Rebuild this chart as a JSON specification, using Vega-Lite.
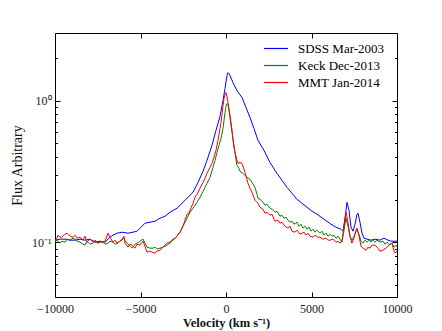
{
"$schema": "https://vega.github.io/schema/vega-lite/v6.json",
"width": 342, "height": 264,
"autosize": {"type": "none"},
"padding": {"left": 55, "top": 33, "right": 45, "bottom": 34},
"background": "white",
"config": {"view": {"stroke": null}, "font": "Liberation Serif",
  "axis": {"grid": false, "domainColor": "black", "domainWidth": 1, "tickColor": "black", "tickWidth": 1, "labelColor": "#222", "labelFont": "Liberation Serif", "labelFontSize": 12, "titleFont": "Liberation Serif", "titleFontSize": 12.5, "titleFontWeight": "bold", "titleColor": "#111"}},
"datasets": {"d": [
{"s":"SDSS Mar-2003","v":-10000,"f":0.1033},{"s":"SDSS Mar-2003","v":-9708,"f":0.105},{"s":"SDSS Mar-2003","v":-9415,"f":0.105},{"s":"SDSS Mar-2003","v":-9123,"f":0.1033},{"s":"SDSS Mar-2003","v":-8830,"f":0.1033},{"s":"SDSS Mar-2003","v":-8538,"f":0.105},{"s":"SDSS Mar-2003","v":-8246,"f":0.1033},{"s":"SDSS Mar-2003","v":-7953,"f":0.105},{"s":"SDSS Mar-2003","v":-7661,"f":0.1},{"s":"SDSS Mar-2003","v":-7368,"f":0.1016},{"s":"SDSS Mar-2003","v":-7076,"f":0.1},{"s":"SDSS Mar-2003","v":-6784,"f":0.1084},{"s":"SDSS Mar-2003","v":-6608,"f":0.112},{"s":"SDSS Mar-2003","v":-6374,"f":0.1157},{"s":"SDSS Mar-2003","v":-6082,"f":0.1176},{"s":"SDSS Mar-2003","v":-5731,"f":0.1157},{"s":"SDSS Mar-2003","v":-5439,"f":0.1176},{"s":"SDSS Mar-2003","v":-5205,"f":0.1195},{"s":"SDSS Mar-2003","v":-5029,"f":0.1255},{"s":"SDSS Mar-2003","v":-4737,"f":0.1361},{"s":"SDSS Mar-2003","v":-4444,"f":0.1383},{"s":"SDSS Mar-2003","v":-4152,"f":0.1406},{"s":"SDSS Mar-2003","v":-3860,"f":0.1476},{"s":"SDSS Mar-2003","v":-3567,"f":0.1524},{"s":"SDSS Mar-2003","v":-3275,"f":0.1627},{"s":"SDSS Mar-2003","v":-2865,"f":0.1736},{"s":"SDSS Mar-2003","v":-2514,"f":0.1913},{"s":"SDSS Mar-2003","v":-2223,"f":0.2074},{"s":"SDSS Mar-2003","v":-1930,"f":0.2249},{"s":"SDSS Mar-2003","v":-1637,"f":0.2644},{"s":"SDSS Mar-2003","v":-1345,"f":0.3162},{"s":"SDSS Mar-2003","v":-1111,"f":0.378},{"s":"SDSS Mar-2003","v":-819,"f":0.4827},{"s":"SDSS Mar-2003","v":-585,"f":0.6163},{"s":"SDSS Mar-2003","v":-351,"f":0.7722},{"s":"SDSS Mar-2003","v":-175,"f":1.0},{"s":"SDSS Mar-2003","v":-58,"f":1.215},{"s":"SDSS Mar-2003","v":59,"f":1.5},{"s":"SDSS Mar-2003","v":117,"f":1.575},{"s":"SDSS Mar-2003","v":175,"f":1.549},{"s":"SDSS Mar-2003","v":234,"f":1.5},{"s":"SDSS Mar-2003","v":409,"f":1.339},{"s":"SDSS Mar-2003","v":643,"f":1.176},{"s":"SDSS Mar-2003","v":936,"f":1.05},{"s":"SDSS Mar-2003","v":1170,"f":0.893},{"s":"SDSS Mar-2003","v":1404,"f":0.759},{"s":"SDSS Mar-2003","v":1637,"f":0.635},{"s":"SDSS Mar-2003","v":1871,"f":0.5237},{"s":"SDSS Mar-2003","v":2222,"f":0.445},{"s":"SDSS Mar-2003","v":2573,"f":0.3659},{"s":"SDSS Mar-2003","v":2982,"f":0.3062},{"s":"SDSS Mar-2003","v":3275,"f":0.2731},{"s":"SDSS Mar-2003","v":3567,"f":0.2439},{"s":"SDSS Mar-2003","v":3860,"f":0.2213},{"s":"SDSS Mar-2003","v":4152,"f":0.2008},{"s":"SDSS Mar-2003","v":4444,"f":0.1882},{"s":"SDSS Mar-2003","v":4737,"f":0.1764},{"s":"SDSS Mar-2003","v":5029,"f":0.1653},{"s":"SDSS Mar-2003","v":5322,"f":0.1575},{"s":"SDSS Mar-2003","v":5731,"f":0.1452},{"s":"SDSS Mar-2003","v":6140,"f":0.1339},{"s":"SDSS Mar-2003","v":6433,"f":0.1275},{"s":"SDSS Mar-2003","v":6725,"f":0.1235},{"s":"SDSS Mar-2003","v":6842,"f":0.1195},{"s":"SDSS Mar-2003","v":6959,"f":0.1476},{"s":"SDSS Mar-2003","v":7076,"f":0.1913},{"s":"SDSS Mar-2003","v":7193,"f":0.168},{"s":"SDSS Mar-2003","v":7310,"f":0.1275},{"s":"SDSS Mar-2003","v":7427,"f":0.1195},{"s":"SDSS Mar-2003","v":7544,"f":0.1339},{"s":"SDSS Mar-2003","v":7661,"f":0.1575},{"s":"SDSS Mar-2003","v":7719,"f":0.16},{"s":"SDSS Mar-2003","v":7836,"f":0.1383},{"s":"SDSS Mar-2003","v":7953,"f":0.1157},{"s":"SDSS Mar-2003","v":8070,"f":0.1067},{"s":"SDSS Mar-2003","v":8246,"f":0.105},{"s":"SDSS Mar-2003","v":8480,"f":0.1033},{"s":"SDSS Mar-2003","v":8713,"f":0.105},{"s":"SDSS Mar-2003","v":9006,"f":0.1033},{"s":"SDSS Mar-2003","v":9240,"f":0.1067},{"s":"SDSS Mar-2003","v":9474,"f":0.1033},{"s":"SDSS Mar-2003","v":9649,"f":0.1016},{"s":"SDSS Mar-2003","v":9825,"f":0.1016},{"s":"SDSS Mar-2003","v":10000,"f":0.1016},
{"s":"Keck Dec-2013","v":-10000,"f":0.1},{"s":"Keck Dec-2013","v":-9883,"f":0.1033},{"s":"Keck Dec-2013","v":-9708,"f":0.0984},{"s":"Keck Dec-2013","v":-9591,"f":0.1016},{"s":"Keck Dec-2013","v":-9415,"f":0.1},{"s":"Keck Dec-2013","v":-9298,"f":0.105},{"s":"Keck Dec-2013","v":-9123,"f":0.1033},{"s":"Keck Dec-2013","v":-8947,"f":0.1067},{"s":"Keck Dec-2013","v":-8830,"f":0.105},{"s":"Keck Dec-2013","v":-8713,"f":0.1016},{"s":"Keck Dec-2013","v":-8538,"f":0.1},{"s":"Keck Dec-2013","v":-8363,"f":0.0968},{"s":"Keck Dec-2013","v":-8246,"f":0.0953},{"s":"Keck Dec-2013","v":-8129,"f":0.1016},{"s":"Keck Dec-2013","v":-8070,"f":0.1},{"s":"Keck Dec-2013","v":-7953,"f":0.0968},{"s":"Keck Dec-2013","v":-7778,"f":0.0984},{"s":"Keck Dec-2013","v":-7661,"f":0.1016},{"s":"Keck Dec-2013","v":-7485,"f":0.0984},{"s":"Keck Dec-2013","v":-7368,"f":0.1},{"s":"Keck Dec-2013","v":-7193,"f":0.1},{"s":"Keck Dec-2013","v":-7076,"f":0.0968},{"s":"Keck Dec-2013","v":-6901,"f":0.0984},{"s":"Keck Dec-2013","v":-6784,"f":0.1016},{"s":"Keck Dec-2013","v":-6608,"f":0.1},{"s":"Keck Dec-2013","v":-6491,"f":0.0968},{"s":"Keck Dec-2013","v":-6316,"f":0.0984},{"s":"Keck Dec-2013","v":-6199,"f":0.1016},{"s":"Keck Dec-2013","v":-6023,"f":0.1067},{"s":"Keck Dec-2013","v":-5906,"f":0.1033},{"s":"Keck Dec-2013","v":-5789,"f":0.0984},{"s":"Keck Dec-2013","v":-5614,"f":0.0937},{"s":"Keck Dec-2013","v":-5497,"f":0.0907},{"s":"Keck Dec-2013","v":-5322,"f":0.0968},{"s":"Keck Dec-2013","v":-5205,"f":0.0984},{"s":"Keck Dec-2013","v":-5029,"f":0.1016},{"s":"Keck Dec-2013","v":-4854,"f":0.105},{"s":"Keck Dec-2013","v":-4737,"f":0.0984},{"s":"Keck Dec-2013","v":-4620,"f":0.0922},{"s":"Keck Dec-2013","v":-4444,"f":0.0907},{"s":"Keck Dec-2013","v":-4269,"f":0.0907},{"s":"Keck Dec-2013","v":-4152,"f":0.0922},{"s":"Keck Dec-2013","v":-4035,"f":0.0893},{"s":"Keck Dec-2013","v":-3860,"f":0.0907},{"s":"Keck Dec-2013","v":-3684,"f":0.0922},{"s":"Keck Dec-2013","v":-3567,"f":0.0937},{"s":"Keck Dec-2013","v":-3450,"f":0.0953},{"s":"Keck Dec-2013","v":-3275,"f":0.0984},{"s":"Keck Dec-2013","v":-3099,"f":0.1033},{"s":"Keck Dec-2013","v":-2982,"f":0.1067},{"s":"Keck Dec-2013","v":-2865,"f":0.1102},{"s":"Keck Dec-2013","v":-2690,"f":0.1176},{"s":"Keck Dec-2013","v":-2514,"f":0.1296},{"s":"Keck Dec-2013","v":-2398,"f":0.1383},{"s":"Keck Dec-2013","v":-2281,"f":0.1476},{"s":"Keck Dec-2013","v":-2105,"f":0.1627},{"s":"Keck Dec-2013","v":-1930,"f":0.1736},{"s":"Keck Dec-2013","v":-1813,"f":0.1822},{"s":"Keck Dec-2013","v":-1696,"f":0.1913},{"s":"Keck Dec-2013","v":-1520,"f":0.2074},{"s":"Keck Dec-2013","v":-1345,"f":0.2286},{"s":"Keck Dec-2013","v":-1228,"f":0.2439},{"s":"Keck Dec-2013","v":-1111,"f":0.2602},{"s":"Keck Dec-2013","v":-936,"f":0.2869},{"s":"Keck Dec-2013","v":-760,"f":0.3374},{"s":"Keck Dec-2013","v":-643,"f":0.378},{"s":"Keck Dec-2013","v":-526,"f":0.4305},{"s":"Keck Dec-2013","v":-409,"f":0.4827},{"s":"Keck Dec-2013","v":-292,"f":0.54},{"s":"Keck Dec-2013","v":-175,"f":0.635},{"s":"Keck Dec-2013","v":-117,"f":0.724},{"s":"Keck Dec-2013","v":-58,"f":0.823},{"s":"Keck Dec-2013","v":0,"f":0.907},{"s":"Keck Dec-2013","v":59,"f":0.9526},{"s":"Keck Dec-2013","v":117,"f":0.937},{"s":"Keck Dec-2013","v":175,"f":0.85},{"s":"Keck Dec-2013","v":234,"f":0.759},{"s":"Keck Dec-2013","v":292,"f":0.667},{"s":"Keck Dec-2013","v":409,"f":0.54},{"s":"Keck Dec-2013","v":526,"f":0.4237},{"s":"Keck Dec-2013","v":643,"f":0.3486},{"s":"Keck Dec-2013","v":760,"f":0.332},{"s":"Keck Dec-2013","v":819,"f":0.3162},{"s":"Keck Dec-2013","v":994,"f":0.3062},{"s":"Keck Dec-2013","v":1228,"f":0.2869},{"s":"Keck Dec-2013","v":1404,"f":0.278},{"s":"Keck Dec-2013","v":1520,"f":0.2644},{"s":"Keck Dec-2013","v":1696,"f":0.2439},{"s":"Keck Dec-2013","v":1813,"f":0.2178},{"s":"Keck Dec-2013","v":1871,"f":0.2041},{"s":"Keck Dec-2013","v":1988,"f":0.2008},{"s":"Keck Dec-2013","v":2164,"f":0.1913},{"s":"Keck Dec-2013","v":2281,"f":0.1822},{"s":"Keck Dec-2013","v":2398,"f":0.1852},{"s":"Keck Dec-2013","v":2573,"f":0.1736},{"s":"Keck Dec-2013","v":2690,"f":0.1708},{"s":"Keck Dec-2013","v":2865,"f":0.1627},{"s":"Keck Dec-2013","v":2982,"f":0.1653},{"s":"Keck Dec-2013","v":3158,"f":0.1524},{"s":"Keck Dec-2013","v":3275,"f":0.1549},{"s":"Keck Dec-2013","v":3392,"f":0.1476},{"s":"Keck Dec-2013","v":3509,"f":0.15},{"s":"Keck Dec-2013","v":3626,"f":0.1428},{"s":"Keck Dec-2013","v":3743,"f":0.1383},{"s":"Keck Dec-2013","v":3860,"f":0.1406},{"s":"Keck Dec-2013","v":3977,"f":0.1339},{"s":"Keck Dec-2013","v":4152,"f":0.1383},{"s":"Keck Dec-2013","v":4269,"f":0.1296},{"s":"Keck Dec-2013","v":4386,"f":0.1339},{"s":"Keck Dec-2013","v":4503,"f":0.1255},{"s":"Keck Dec-2013","v":4620,"f":0.1296},{"s":"Keck Dec-2013","v":4737,"f":0.1235},{"s":"Keck Dec-2013","v":4854,"f":0.1275},{"s":"Keck Dec-2013","v":4971,"f":0.1195},{"s":"Keck Dec-2013","v":5088,"f":0.1235},{"s":"Keck Dec-2013","v":5205,"f":0.1176},{"s":"Keck Dec-2013","v":5322,"f":0.1215},{"s":"Keck Dec-2013","v":5497,"f":0.1157},{"s":"Keck Dec-2013","v":5614,"f":0.1195},{"s":"Keck Dec-2013","v":5731,"f":0.112},{"s":"Keck Dec-2013","v":5848,"f":0.1157},{"s":"Keck Dec-2013","v":5965,"f":0.1102},{"s":"Keck Dec-2013","v":6082,"f":0.1139},{"s":"Keck Dec-2013","v":6199,"f":0.1102},{"s":"Keck Dec-2013","v":6316,"f":0.112},{"s":"Keck Dec-2013","v":6433,"f":0.1067},{"s":"Keck Dec-2013","v":6550,"f":0.1102},{"s":"Keck Dec-2013","v":6667,"f":0.105},{"s":"Keck Dec-2013","v":6784,"f":0.1},{"s":"Keck Dec-2013","v":6901,"f":0.1215},{"s":"Keck Dec-2013","v":7018,"f":0.1476},{"s":"Keck Dec-2013","v":7135,"f":0.1296},{"s":"Keck Dec-2013","v":7251,"f":0.1102},{"s":"Keck Dec-2013","v":7368,"f":0.1033},{"s":"Keck Dec-2013","v":7485,"f":0.1102},{"s":"Keck Dec-2013","v":7602,"f":0.1195},{"s":"Keck Dec-2013","v":7661,"f":0.1235},{"s":"Keck Dec-2013","v":7778,"f":0.1139},{"s":"Keck Dec-2013","v":7895,"f":0.1016},{"s":"Keck Dec-2013","v":8012,"f":0.0984},{"s":"Keck Dec-2013","v":8129,"f":0.1033},{"s":"Keck Dec-2013","v":8246,"f":0.1},{"s":"Keck Dec-2013","v":8363,"f":0.1033},{"s":"Keck Dec-2013","v":8480,"f":0.1},{"s":"Keck Dec-2013","v":8597,"f":0.1033},{"s":"Keck Dec-2013","v":8713,"f":0.1},{"s":"Keck Dec-2013","v":8830,"f":0.1033},{"s":"Keck Dec-2013","v":9006,"f":0.1},{"s":"Keck Dec-2013","v":9181,"f":0.1016},{"s":"Keck Dec-2013","v":9298,"f":0.0968},{"s":"Keck Dec-2013","v":9415,"f":0.1},{"s":"Keck Dec-2013","v":9591,"f":0.0953},{"s":"Keck Dec-2013","v":9708,"f":0.0984},{"s":"Keck Dec-2013","v":9825,"f":0.0922},{"s":"Keck Dec-2013","v":9942,"f":0.0953},{"s":"Keck Dec-2013","v":10000,"f":0.0922},
{"s":"MMT Jan-2014","v":-10000,"f":0.1016},{"s":"MMT Jan-2014","v":-9883,"f":0.1067},{"s":"MMT Jan-2014","v":-9825,"f":0.112},{"s":"MMT Jan-2014","v":-9708,"f":0.1084},{"s":"MMT Jan-2014","v":-9591,"f":0.1084},{"s":"MMT Jan-2014","v":-9415,"f":0.1139},{"s":"MMT Jan-2014","v":-9298,"f":0.1157},{"s":"MMT Jan-2014","v":-9123,"f":0.1102},{"s":"MMT Jan-2014","v":-8947,"f":0.1084},{"s":"MMT Jan-2014","v":-8830,"f":0.112},{"s":"MMT Jan-2014","v":-8713,"f":0.1067},{"s":"MMT Jan-2014","v":-8538,"f":0.1084},{"s":"MMT Jan-2014","v":-8363,"f":0.1033},{"s":"MMT Jan-2014","v":-8246,"f":0.1102},{"s":"MMT Jan-2014","v":-8129,"f":0.1},{"s":"MMT Jan-2014","v":-7953,"f":0.105},{"s":"MMT Jan-2014","v":-7778,"f":0.1},{"s":"MMT Jan-2014","v":-7661,"f":0.1033},{"s":"MMT Jan-2014","v":-7485,"f":0.0984},{"s":"MMT Jan-2014","v":-7368,"f":0.1016},{"s":"MMT Jan-2014","v":-7193,"f":0.1},{"s":"MMT Jan-2014","v":-7076,"f":0.1016},{"s":"MMT Jan-2014","v":-6901,"f":0.1157},{"s":"MMT Jan-2014","v":-6784,"f":0.1084},{"s":"MMT Jan-2014","v":-6608,"f":0.1},{"s":"MMT Jan-2014","v":-6491,"f":0.1033},{"s":"MMT Jan-2014","v":-6374,"f":0.0984},{"s":"MMT Jan-2014","v":-6199,"f":0.1016},{"s":"MMT Jan-2014","v":-6082,"f":0.1033},{"s":"MMT Jan-2014","v":-5965,"f":0.1102},{"s":"MMT Jan-2014","v":-5906,"f":0.0984},{"s":"MMT Jan-2014","v":-5731,"f":0.0922},{"s":"MMT Jan-2014","v":-5614,"f":0.0968},{"s":"MMT Jan-2014","v":-5497,"f":0.0953},{"s":"MMT Jan-2014","v":-5322,"f":0.0907},{"s":"MMT Jan-2014","v":-5205,"f":0.0968},{"s":"MMT Jan-2014","v":-5029,"f":0.0953},{"s":"MMT Jan-2014","v":-4912,"f":0.1},{"s":"MMT Jan-2014","v":-4854,"f":0.1016},{"s":"MMT Jan-2014","v":-4737,"f":0.0937},{"s":"MMT Jan-2014","v":-4620,"f":0.085},{"s":"MMT Jan-2014","v":-4444,"f":0.0864},{"s":"MMT Jan-2014","v":-4327,"f":0.085},{"s":"MMT Jan-2014","v":-4152,"f":0.0837},{"s":"MMT Jan-2014","v":-4035,"f":0.0864},{"s":"MMT Jan-2014","v":-3860,"f":0.0878},{"s":"MMT Jan-2014","v":-3684,"f":0.0922},{"s":"MMT Jan-2014","v":-3567,"f":0.0953},{"s":"MMT Jan-2014","v":-3450,"f":0.0984},{"s":"MMT Jan-2014","v":-3275,"f":0.1},{"s":"MMT Jan-2014","v":-3099,"f":0.105},{"s":"MMT Jan-2014","v":-2982,"f":0.1067},{"s":"MMT Jan-2014","v":-2865,"f":0.1102},{"s":"MMT Jan-2014","v":-2690,"f":0.1176},{"s":"MMT Jan-2014","v":-2514,"f":0.1296},{"s":"MMT Jan-2014","v":-2398,"f":0.1428},{"s":"MMT Jan-2014","v":-2281,"f":0.1575},{"s":"MMT Jan-2014","v":-2164,"f":0.16},{"s":"MMT Jan-2014","v":-2105,"f":0.168},{"s":"MMT Jan-2014","v":-1930,"f":0.1882},{"s":"MMT Jan-2014","v":-1813,"f":0.2074},{"s":"MMT Jan-2014","v":-1696,"f":0.2178},{"s":"MMT Jan-2014","v":-1520,"f":0.24},{"s":"MMT Jan-2014","v":-1345,"f":0.2644},{"s":"MMT Jan-2014","v":-1228,"f":0.2825},{"s":"MMT Jan-2014","v":-1111,"f":0.3062},{"s":"MMT Jan-2014","v":-936,"f":0.3374},{"s":"MMT Jan-2014","v":-819,"f":0.3601},{"s":"MMT Jan-2014","v":-702,"f":0.397},{"s":"MMT Jan-2014","v":-585,"f":0.445},{"s":"MMT Jan-2014","v":-468,"f":0.5237},{"s":"MMT Jan-2014","v":-351,"f":0.635},{"s":"MMT Jan-2014","v":-292,"f":0.7008},{"s":"MMT Jan-2014","v":-234,"f":0.797},{"s":"MMT Jan-2014","v":-175,"f":0.922},{"s":"MMT Jan-2014","v":-117,"f":1.033},{"s":"MMT Jan-2014","v":-58,"f":1.1},{"s":"MMT Jan-2014","v":0,"f":1.138},{"s":"MMT Jan-2014","v":59,"f":1.067},{"s":"MMT Jan-2014","v":117,"f":0.968},{"s":"MMT Jan-2014","v":175,"f":0.878},{"s":"MMT Jan-2014","v":234,"f":0.784},{"s":"MMT Jan-2014","v":292,"f":0.7008},{"s":"MMT Jan-2014","v":351,"f":0.6163},{"s":"MMT Jan-2014","v":409,"f":0.5237},{"s":"MMT Jan-2014","v":526,"f":0.4305},{"s":"MMT Jan-2014","v":643,"f":0.378},{"s":"MMT Jan-2014","v":702,"f":0.3601},{"s":"MMT Jan-2014","v":819,"f":0.3659},{"s":"MMT Jan-2014","v":936,"f":0.3601},{"s":"MMT Jan-2014","v":1111,"f":0.3111},{"s":"MMT Jan-2014","v":1287,"f":0.2602},{"s":"MMT Jan-2014","v":1404,"f":0.24},{"s":"MMT Jan-2014","v":1520,"f":0.2249},{"s":"MMT Jan-2014","v":1696,"f":0.1976},{"s":"MMT Jan-2014","v":1871,"f":0.1882},{"s":"MMT Jan-2014","v":1988,"f":0.1764},{"s":"MMT Jan-2014","v":2164,"f":0.1708},{"s":"MMT Jan-2014","v":2281,"f":0.16},{"s":"MMT Jan-2014","v":2398,"f":0.1627},{"s":"MMT Jan-2014","v":2573,"f":0.1549},{"s":"MMT Jan-2014","v":2690,"f":0.1575},{"s":"MMT Jan-2014","v":2807,"f":0.1452},{"s":"MMT Jan-2014","v":2865,"f":0.1406},{"s":"MMT Jan-2014","v":3041,"f":0.1428},{"s":"MMT Jan-2014","v":3158,"f":0.1361},{"s":"MMT Jan-2014","v":3275,"f":0.1383},{"s":"MMT Jan-2014","v":3450,"f":0.1296},{"s":"MMT Jan-2014","v":3626,"f":0.1255},{"s":"MMT Jan-2014","v":3743,"f":0.1296},{"s":"MMT Jan-2014","v":3860,"f":0.1195},{"s":"MMT Jan-2014","v":4035,"f":0.1176},{"s":"MMT Jan-2014","v":4152,"f":0.1215},{"s":"MMT Jan-2014","v":4328,"f":0.1139},{"s":"MMT Jan-2014","v":4444,"f":0.1157},{"s":"MMT Jan-2014","v":4562,"f":0.1176},{"s":"MMT Jan-2014","v":4678,"f":0.112},{"s":"MMT Jan-2014","v":4795,"f":0.1157},{"s":"MMT Jan-2014","v":4912,"f":0.1102},{"s":"MMT Jan-2014","v":5088,"f":0.1084},{"s":"MMT Jan-2014","v":5205,"f":0.112},{"s":"MMT Jan-2014","v":5380,"f":0.1084},{"s":"MMT Jan-2014","v":5497,"f":0.1084},{"s":"MMT Jan-2014","v":5672,"f":0.105},{"s":"MMT Jan-2014","v":5848,"f":0.1067},{"s":"MMT Jan-2014","v":5965,"f":0.1033},{"s":"MMT Jan-2014","v":6082,"f":0.1033},{"s":"MMT Jan-2014","v":6257,"f":0.105},{"s":"MMT Jan-2014","v":6433,"f":0.1},{"s":"MMT Jan-2014","v":6550,"f":0.1016},{"s":"MMT Jan-2014","v":6667,"f":0.0984},{"s":"MMT Jan-2014","v":6784,"f":0.1033},{"s":"MMT Jan-2014","v":6901,"f":0.1296},{"s":"MMT Jan-2014","v":7018,"f":0.1627},{"s":"MMT Jan-2014","v":7135,"f":0.1383},{"s":"MMT Jan-2014","v":7251,"f":0.1102},{"s":"MMT Jan-2014","v":7368,"f":0.0984},{"s":"MMT Jan-2014","v":7485,"f":0.1067},{"s":"MMT Jan-2014","v":7602,"f":0.1215},{"s":"MMT Jan-2014","v":7661,"f":0.1255},{"s":"MMT Jan-2014","v":7778,"f":0.1102},{"s":"MMT Jan-2014","v":7895,"f":0.0937},{"s":"MMT Jan-2014","v":8012,"f":0.0907},{"s":"MMT Jan-2014","v":8187,"f":0.0878},{"s":"MMT Jan-2014","v":8304,"f":0.0922},{"s":"MMT Jan-2014","v":8421,"f":0.0907},{"s":"MMT Jan-2014","v":8538,"f":0.0953},{"s":"MMT Jan-2014","v":8713,"f":0.0953},{"s":"MMT Jan-2014","v":8889,"f":0.0907},{"s":"MMT Jan-2014","v":9006,"f":0.0864},{"s":"MMT Jan-2014","v":9181,"f":0.0878},{"s":"MMT Jan-2014","v":9357,"f":0.0907},{"s":"MMT Jan-2014","v":9474,"f":0.0937},{"s":"MMT Jan-2014","v":9591,"f":0.0968},{"s":"MMT Jan-2014","v":9708,"f":0.0984},{"s":"MMT Jan-2014","v":9825,"f":0.0864},{"s":"MMT Jan-2014","v":9883,"f":0.0837},{"s":"MMT Jan-2014","v":10000,"f":0.0864}
]},
"data": {"name": "d"},
"layer": [
 {"mark": {"type": "line", "strokeWidth": 1, "clip": true},
  "encoding": {
   "x": {"field": "v", "type": "quantitative", "scale": {"domain": [-10000, 10000], "nice": false, "zero": false},
     "axis": {"orient": "bottom", "values": [-10000, -5000, 0, 5000, 10000], "format": "d", "tickSize": -5, "labelPadding": 11, "labelFlush": false, "title": "Velocity (km s⁻¹)", "titlePadding": 2}},
   "y": {"field": "f", "type": "quantitative", "scale": {"type": "log", "domain": [0.041, 3], "nice": false},
     "axis": {"orient": "left", "values": [0.05,0.06,0.07,0.08,0.09,0.1,0.2,0.3,0.4,0.5,0.6,0.7,0.8,0.9,1,2], "labelExpr": "datum.value == 1 ? '10⁰' : (datum.value == 0.1 ? '10⁻¹' : '')", "tickSize": {"condition": {"test": "datum.value == 1 || datum.value == 0.1", "value": -5}, "value": -2.5}, "labelPadding": 9, "title": "Flux Arbitrary", "titleFontWeight": "normal", "titleFontSize": 14, "titlePadding": 7}},
   "color": {"field": "s", "type": "nominal", "sort": ["SDSS Mar-2003", "Keck Dec-2013", "MMT Jan-2014"],
     "scale": {"domain": ["SDSS Mar-2003", "Keck Dec-2013", "MMT Jan-2014"], "range": ["#0000ff", "#008000", "#ff0000"]},
     "legend": {"orient": "none", "legendX": 208, "legendY": 7, "title": null, "symbolType": "stroke", "symbolSize": 576, "symbolStrokeWidth": 1.2, "labelFont": "Liberation Serif", "labelFontSize": 13, "labelColor": "black", "labelOffset": 9, "clipHeight": 17, "rowPadding": 0}}
  }},
 {"mark": {"type": "line", "opacity": 0},
  "encoding": {
   "x": {"field": "v", "type": "quantitative", "axis": {"orient": "top", "values": [-10000, -5000, 0, 5000, 10000], "labels": false, "title": null, "tickSize": -5}},
   "y": {"field": "f", "type": "quantitative", "axis": {"orient": "right", "values": [0.05,0.06,0.07,0.08,0.09,0.1,0.2,0.3,0.4,0.5,0.6,0.7,0.8,0.9,1,2], "labels": false, "title": null, "tickSize": {"condition": {"test": "datum.value == 1 || datum.value == 0.1", "value": -5}, "value": -2.5}}}
  }}
],
"resolve": {"axis": {"x": "independent", "y": "independent"}}
}
